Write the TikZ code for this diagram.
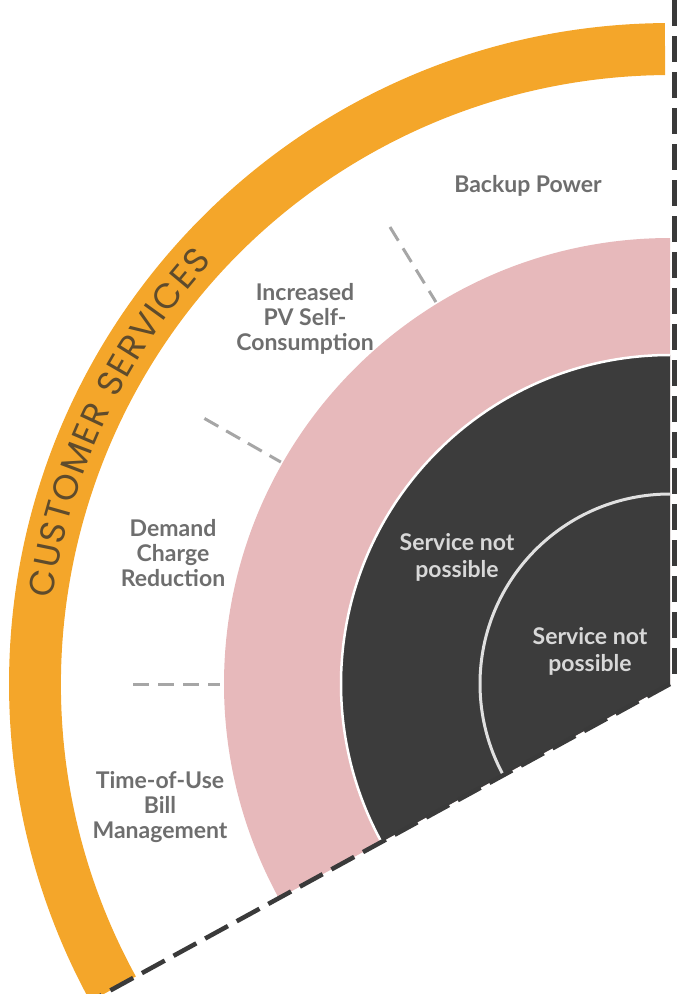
\documentclass[tikz,border=0pt]{standalone}
\usepackage{fontspec}
\setmainfont{Lato}
\newfontfamily\arcfont{Poppins}
\usetikzlibrary{decorations.text}

\definecolor{bandorange}{HTML}{F4A62A}
\definecolor{bandpink}{HTML}{E7B9BB}
\definecolor{coredark}{HTML}{3C3C3C}
\definecolor{labelgray}{HTML}{6E6E6E}
\definecolor{corelabelgray}{HTML}{D8D8D8}
\definecolor{arclabel}{HTML}{5E4B2C}
\definecolor{edgegray}{HTML}{3A3A3A}

\begin{document}
\begin{tikzpicture}[x=1pt,y=1pt,
  seglabel/.style={font=\fontsize{23}{25}\selectfont\bfseries, text=labelgray,
                   align=center, inner sep=0pt},
  corelabel/.style={font=\fontsize{23}{27}\selectfont\bfseries, text=corelabelgray,
                    align=center, inner sep=0pt},
  divider/.style={draw=black!35, line width=3pt, dash pattern=on 16pt off 9pt},
  edgeline/.style={draw=edgegray, line width=4.5pt, dash pattern=on 26pt off 10pt},
]
\useasboundingbox (0,-994) rectangle (677,0);
\clip (0,-994) rectangle (677,0);

% centre of the rings
\coordinate (O) at (670,-684);

% outer orange band
\fill[bandorange] ([shift={(O)}]90.45:661pt) arc[start angle=90.45, end angle=208.7, radius=661pt]
  -- ([shift={(O)}]208.7:609pt) arc[start angle=208.7, end angle=90.45, radius=609pt] -- cycle;

% pink ring
\fill[bandpink] (O) -- ([shift={(O)}]90:446pt) arc[start angle=90, end angle=208.7, radius=446pt] -- cycle;

% dark core with its light rim
\fill[coredark] (O) -- ([shift={(O)}]90:329pt) arc[start angle=90, end angle=208.7, radius=329pt] -- cycle;
\draw[white, line width=2.5pt] ([shift={(O)}]90:329pt) arc[start angle=90, end angle=208.7, radius=329pt];
\draw[black!12, line width=3pt] ([shift={(O)}]90:190pt) arc[start angle=90, end angle=208.7, radius=190pt];

% sector boundaries
\coordinate (topend) at (674.5,0);
\coordinate (vcentre) at (674.5,-684);
\coordinate (rayend) at ([shift={(O)}]208.7:660pt);
\draw[edgeline] (topend) -- (vcentre);
\draw[edgeline] (O) -- (rayend);

% dividers between the service segments
\coordinate (d1a) at ([shift={(O)}]121.5:448pt);
\coordinate (d1b) at ([shift={(O)}]121.5:536pt);
\coordinate (d2a) at ([shift={(O)}]150.3:448pt);
\coordinate (d2b) at ([shift={(O)}]150.3:536pt);
\coordinate (d3a) at ([shift={(O)}]180:450pt);
\coordinate (d3b) at ([shift={(O)}]180:537pt);
\draw[divider] (d1b) -- (d1a);
\draw[divider] (d2b) -- (d2a);
\draw[divider] (d3b) -- (d3a);

% title along the orange band
\path[decorate, decoration={text along path, text align=center,
  text={|\arcfont\fontsize{35}{35}\selectfont\color{arclabel}|C{\kern1.5pt}U{\kern1.5pt}S{\kern1.5pt}T{\kern1.5pt}O{\kern1.5pt}M{\kern1.5pt}E{\kern1.5pt}R{\kern1.5pt} {\kern1.5pt}S{\kern1.5pt}E{\kern1.5pt}R{\kern1.5pt}V{\kern1.5pt}I{\kern1.5pt}C{\kern1.5pt}E{\kern1.5pt}S}}]
  ([shift={(O)}]185:623pt) arc[start angle=185, end angle=124.4, radius=623pt];

% segment labels
\node[seglabel] (backup) at (528,-186) {Backup Power};
\node[seglabel] (pvself) at (305,-319) {Increased\\PV Self-\\Consumption};
\node[seglabel] (demand) at (173,-553) {Demand\\Charge\\Reduction};
\node[seglabel] (tou) at (160,-807) {Time-of-Use\\Bill\\Management};
\node[corelabel] (core1) at (457,-557) {Service not\\possible};
\node[corelabel] (core2) at (590,-651) {Service not\\possible};
\end{tikzpicture}
\end{document}
